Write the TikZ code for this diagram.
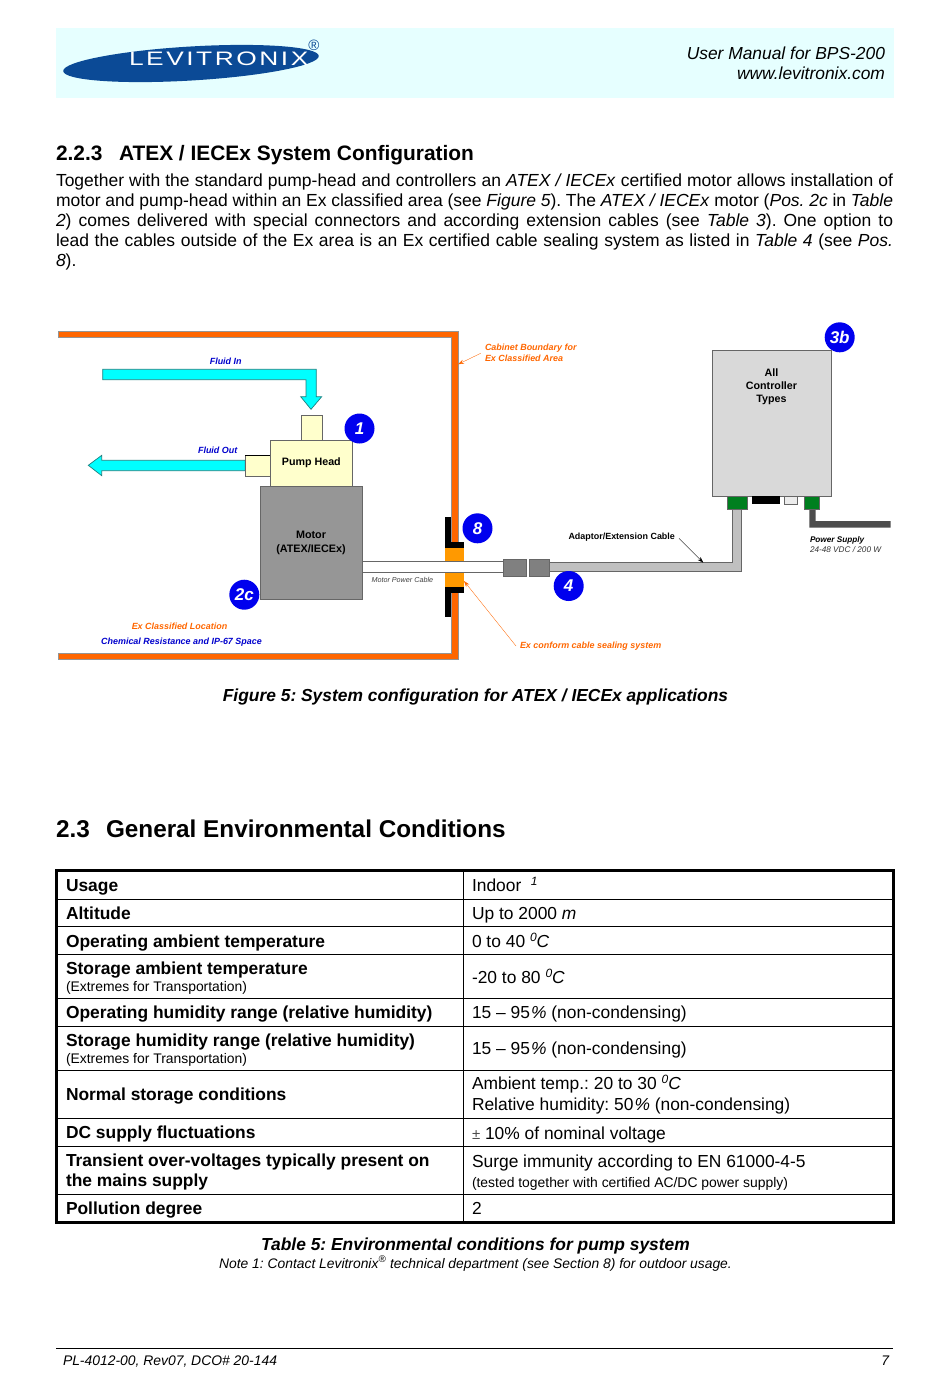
\documentclass[tikz,border=0pt]{standalone}
\usepackage{fontspec}
\setmainfont{Liberation Sans}
\newfontfamily\logofont[FakeStretch=1.35,LetterSpace=13]{Liberation Sans}
\usetikzlibrary{arrows.meta,shapes.geometric}
\definecolor{hdrbg}{HTML}{E6FFFF}
\definecolor{logoblue}{HTML}{0B4A96}
\definecolor{exorange}{HTML}{FF6600}
\definecolor{sealorange}{HTML}{FF9900}
\definecolor{fluid}{HTML}{00FFFF}
\definecolor{fluidedge}{HTML}{1F7F7F}
\definecolor{pump}{HTML}{FFFFCC}
\definecolor{motorgray}{HTML}{969696}
\definecolor{edgegray}{HTML}{666666}
\definecolor{ctrlgray}{HTML}{D9D9D9}
\definecolor{cablegray}{HTML}{C0C0C0}
\definecolor{conngray}{HTML}{808080}
\definecolor{powergray}{HTML}{4D4D4D}
\definecolor{green1}{HTML}{007F1F}
\definecolor{posblue}{HTML}{0000EE}
\definecolor{lblblue}{HTML}{0000CC}
\newcommand{\fs}[1]{\fontsize{#1}{#1}\selectfont}
\newcommand{\jline}[1]{\hbox to 837pt{#1}}
\newcommand{\supit}[1]{\raisebox{5.6pt}{\fs{12}\itshape #1}}
\frenchspacing
\tikzset{
  txt/.style={anchor=base west,inner sep=0pt,outer sep=0pt},
  txtc/.style={anchor=base,inner sep=0pt,outer sep=0pt,align=center},
  txtr/.style={anchor=base east,inner sep=0pt,outer sep=0pt},
  bodyline/.style={txt,font=\fs{17.5}},
  cellb/.style={txt,font=\fs{17.4}\bfseries},
  cellr/.style={txt,font=\fs{17.4}},
  smalltxt/.style={txt,font=\fs{13.9}},
  posmark/.style={circle,fill=posblue,draw=none,minimum size=30pt,inner sep=0pt,text=white,font=\fs{17}\bfseries\itshape},
  partbox/.style={draw=edgegray,line width=.7pt},
  lbl/.style={txtc,font=\fs{8.95}\bfseries\itshape},
  leaderline/.style={line width=.35pt,-{Stealth[length=6pt,width=4pt]}},
}
\begin{document}
\begin{tikzpicture}[x=1pt,y=-1pt]
\useasboundingbox (0,0) rectangle (950,1379);
% header
\fill[hdrbg] (56,28) rectangle (894,98);
\node[ellipse,fill=logoblue,minimum width=256pt,minimum height=34pt,inner sep=0pt,rotate=3.4] (logo) at (191,63.5) {};
\node[txt,text=white,font=\logofont\fs{19.5}] (logotext) at (129,65) {LEVITRONIX};
\node[txtc,text=logoblue,font=\fs{15}] (logoreg) at (314,50.5) {®};
\node[txtr,font=\fs{17.4}\itshape] (hdr1) at (885,59) {User Manual for BPS-200};
\node[txtr,font=\fs{17.4}\itshape] (hdr2) at (885,79) {www.levitronix.com};
% section 2.2.3
\node[txt,font=\fs{20.9}\bfseries] (s223) at (56,160) {2.2.3};
\node[txt,font=\fs{20.9}\bfseries] (s223t) at (119,160) {ATEX / IECEx System Configuration};
\node[bodyline] (p1) at (56,186) {\jline{Together with the standard pump-head and controllers an \textit{ATEX / IECEx} certified motor allows installation of}};
\node[bodyline] (p2) at (56,206) {\jline{motor and pump-head within an Ex classified area (see \textit{Figure 5}). The \textit{ATEX / IECEx} motor (\textit{Pos. 2c} in \textit{Table}}};
\node[bodyline] (p3) at (56,226) {\jline{\textit{2}) comes delivered with special connectors and according extension cables (see \textit{Table 3}). One option to}};
\node[bodyline] (p4) at (56,246) {\jline{lead the cables outside of the Ex area is an Ex certified cable sealing system as listed in \textit{Table 4} (see \textit{Pos.}}};
\node[bodyline] (p5) at (56,266) {\textit{8}).};
% figure: cabinet
\path[fill=exorange,draw=edgegray!70,line width=.4pt] (58,331) -- (458,331) -- (458,659) -- (58,659) -- (58,653) -- (451.3,653) -- (451.3,337) -- (58,337) -- cycle;
% fluid arrows
\path[fill=fluid,draw=fluidedge,line width=.7pt] (102.7,369.3) -- (316.3,369.3) -- (316.3,396.7) -- (321.7,396.7) -- (311,409.3) -- (300.7,396.7) -- (306,396.7) -- (306,379.7) -- (102.7,379.7) -- cycle;
\path[fill=fluid,draw=fluidedge,line width=.7pt] (88.3,465.3) -- (101.7,455.3) -- (101.7,460.3) -- (245.3,460.3) -- (245.3,470.7) -- (101.7,470.7) -- (101.7,475.7) -- cycle;
% pump and motor
\node[partbox,fill=pump,minimum width=20.7pt,minimum height=25.3pt,inner sep=0pt,anchor=north west] (topstub) at (301,414.7) {};
\node[partbox,fill=pump,minimum width=25pt,minimum height=20.4pt,inner sep=0pt,anchor=north west] (outstub) at (245.3,455.3) {};
\draw[black,line width=.8pt] (245.3,455.3) -- (270.3,455.3);
\node[partbox,fill=pump,minimum width=81.4pt,minimum height=45.7pt,inner sep=0pt,anchor=north west,font=\fs{10.7}\bfseries] (pumphead) at (270.3,440) {Pump Head};
\path[partbox,fill=white] (362,561.7) rectangle (503.3,572.3);
\node[partbox,fill=motorgray,minimum width=101.7pt,minimum height=113.6pt,inner sep=0pt,anchor=north west] (motor) at (260.3,485.7) {};
\node[txtc,font=\fs{10.8}\bfseries] (motortxt) at (311,552) {Motor\\[2.4pt](ATEX/IECEx)};
% seal
\fill[black] (445,517.3) rectangle (451.3,541.7);
\fill[black] (445,541.7) rectangle (463.7,548.3);
\fill[sealorange] (445,548.3) rectangle (463.7,561.7);
\fill[sealorange] (445,572.3) rectangle (463.7,586.7);
\fill[black] (445,586.7) rectangle (463.7,593.3);
\fill[black] (445,593.3) rectangle (451.3,617.3);
\fill[white] (440,561.7) rectangle (503.3,572.3);
\draw[edgegray,line width=.7pt] (362,561.7) -- (503.3,561.7) (362,572.3) -- (503.3,572.3);
% cable and connectors
\path[partbox,fill=cablegray] (548.7,562.7) -- (732,562.7) -- (732,508.3) -- (741.7,508.3) -- (741.7,571.7) -- (548.7,571.7) -- cycle;
\node[partbox,fill=conngray,minimum width=22.7pt,minimum height=16.7pt,inner sep=0pt,anchor=north west] (conn1) at (503.3,559.3) {};
\node[partbox,fill=conngray,minimum width=19.7pt,minimum height=16.7pt,inner sep=0pt,anchor=north west] (conn2) at (529,559.3) {};
% controller
\node[partbox,fill=ctrlgray,minimum width=119pt,minimum height=145.7pt,inner sep=0pt,anchor=north west] (ctrl) at (712,350) {};
\node[txtc,font=\fs{10.7}\bfseries] (ctrltxt) at (771.5,402) {All\\[2.3pt]Controller\\[2.3pt]Types};
\node[draw=edgegray,fill=green1,line width=.4pt,minimum width=19.7pt,minimum height=13pt,inner sep=0pt,anchor=north west] (greenl) at (727,495.7) {};
\node[fill=black,minimum width=27.7pt,minimum height=8pt,inner sep=0pt,anchor=north west] (blackport) at (752,495.7) {};
\node[partbox,fill=ctrlgray!50,line width=.5pt,minimum width=13pt,minimum height=8pt,inner sep=0pt,anchor=north west] (whiteport) at (783.7,495.7) {};
\path[fill=powergray] (809.3,508.7) -- (815.7,508.7) -- (815.7,521) -- (890.7,521) -- (890.7,527.7) -- (809.3,527.7) -- cycle;
\node[draw=edgegray,fill=green1,line width=.4pt,minimum width=15.3pt,minimum height=13pt,inner sep=0pt,anchor=north west] (greenr) at (804,495.7) {};
% position markers
\node[posmark] (p1c) at (359.5,428.5) {1};
\node[posmark] (p2c) at (244.3,594.7) {2c};
\node[posmark] (p8c) at (477.5,528.3) {8};
\node[posmark] (p4c) at (568.7,586) {4};
\node[posmark] (p3c) at (839.7,337.3) {3b};
% figure labels
\node[lbl,text=lblblue] (fin) at (225.7,364) {Fluid In};
\node[lbl,text=lblblue] (fout) at (217.7,453) {Fluid Out};
\node[lbl,text=exorange] (exloc) at (179.5,629) {Ex Classified Location};
\node[lbl,text=lblblue] (chem) at (181.5,644) {Chemical Resistance and IP-67 Space};
\node[txt,font=\fs{7.2}\itshape,text=black!75] (mpc) at (371.5,582.5) {Motor Power Cable};
\node[txt,align=left,text=exorange,font=\fs{8.95}\bfseries\itshape] (cablbl) at (485,361) {Cabinet Boundary for\\[1.1pt]Ex Classified Area};
\node[txt,text=exorange,font=\fs{8.95}\bfseries\itshape] (seallbl) at (520,648) {Ex conform cable sealing system};
\node[txt,font=\fs{8.95}\bfseries] (adlbl) at (568.5,539) {Adaptor/Extension Cable};
\node[txt,font=\fs{8.2}\bfseries\itshape] (pwlbl) at (810,542.5) {Power Supply};
\node[txt,font=\fs{8.2}\itshape,text=black!80] (pwval) at (810,552.5) {24-48 VDC / 200 W};
% leaders
\coordinate (cabfrom) at (480.7,353.3);
\coordinate (cabto) at (458,364.3);
\coordinate (sealfrom) at (516,646);
\coordinate (sealto) at (464,581);
\coordinate (adfrom) at (679,538.3);
\coordinate (adto) at (703.3,562.7);
\draw[leaderline,exorange] (cabfrom) -- (cabto);
\draw[leaderline,exorange] (sealfrom) -- (sealto);
\draw[leaderline,black] (adfrom) -- (adto);
% caption
\node[txtc,font=\fs{17.4}\bfseries\itshape] (figcap) at (475.5,701) {Figure 5: System configuration for ATEX / IECEx applications};
% section 2.3
\node[txt,font=\fs{24.3}\bfseries] (s23) at (56,837) {2.3};
\node[txt,font=\fs{24.3}\bfseries] (s23t) at (106,837) {General Environmental Conditions};
% table lines
\draw[black,line width=.9pt] (463,870) -- (463,1223);
\foreach \y in {899,926.5,954.5,998,1026,1070,1118,1146.5,1194.5} \draw[black,line width=.9pt] (56,\y) -- (894,\y);
\draw[black,line width=3pt] (56.5,870) rectangle (893,1222.5);
% table left
\node[cellb] (a1) at (66,891) {Usage};
\node[cellb] (a2) at (66,919) {Altitude};
\node[cellb] (a3) at (66,947) {Operating ambient temperature};
\node[cellb] (a4) at (66,974) {Storage ambient temperature};
\node[smalltxt] (a4s) at (66,991) {(Extremes for Transportation)};
\node[cellb] (a5) at (66,1018) {Operating humidity range (relative humidity)};
\node[cellb] (a6) at (66,1046) {Storage humidity range (relative humidity)};
\node[smalltxt] (a6s) at (66,1063) {(Extremes for Transportation)};
\node[cellb] (a7) at (66,1100) {Normal storage conditions};
\node[cellb] (a8) at (66,1138) {DC supply fluctuations};
\node[cellb] (a9) at (66,1166) {Transient over-voltages typically present on};
\node[cellb] (a9b) at (66,1186) {the mains supply};
\node[cellb] (a10) at (66,1214) {Pollution degree};
% table right
\node[cellr] (b1) at (472,891) {Indoor\hspace{9.5pt}\supit{1}};
\node[cellr] (b2) at (472,919) {Up to 2000 \textit{m}};
\node[cellr] (b3) at (472,947) {0 to 40 \supit{0}\textit{C}};
\node[cellr] (b4) at (472,983) {-20 to 80 \supit{0}\textit{C}};
\node[cellr] (b5) at (472,1018) {15 – 95\kern1pt\textit{\%} (non-condensing)};
\node[cellr] (b6) at (472,1054) {15 – 95\kern1pt\textit{\%} (non-condensing)};
\node[cellr] (b7) at (472,1089) {Ambient temp.: 20 to 30 \supit{0}\textit{C}};
\node[cellr] (b7b) at (472,1110) {Relative humidity: 50\kern1pt\textit{\%} (non-condensing)};
\node[cellr] (b8) at (472,1139) {{\fs{15}\color{black!70}±} 10\% of nominal voltage};
\node[cellr] (b9) at (472,1167) {Surge immunity according to EN 61000-4-5};
\node[smalltxt] (b9s) at (472,1187) {(tested together with certified AC/DC power supply)};
\node[cellr] (b10) at (472,1214) {2};
% table caption
\node[txtc,font=\fs{17.4}\bfseries\itshape] (tabcap) at (475.5,1250) {Table 5: Environmental conditions for pump system};
\node[txtc,font=\fs{13.85}\itshape] (tabnote) at (475.5,1268) {Note 1: Contact Levitronix\textsuperscript{®} technical department (see Section 8) for outdoor usage.};
% footer
\draw[black,line width=.8pt] (56,1348) -- (893,1348);
\node[txt,font=\fs{13.9}\itshape] (foot1) at (63,1365) {PL-4012-00, Rev07, DCO\# 20-144};
\node[txtr,font=\fs{13.9}\itshape] (foot2) at (889,1365) {7};
\end{tikzpicture}
\end{document}
